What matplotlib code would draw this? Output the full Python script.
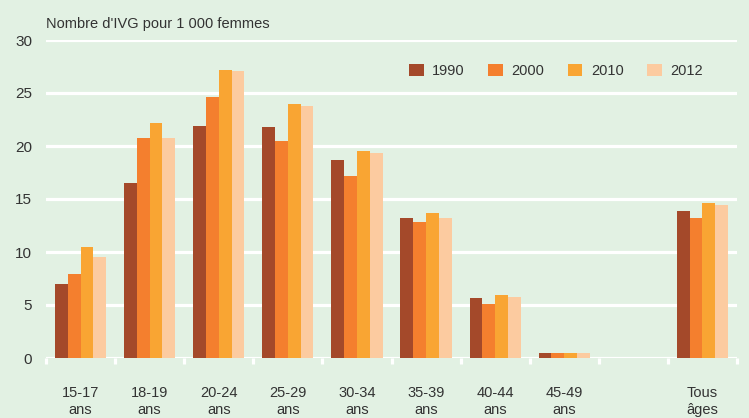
import numpy as np
import matplotlib
matplotlib.use("Agg")
import matplotlib.pyplot as plt
from matplotlib.patches import Patch

# Taux d'IVG pour 1 000 femmes, par groupe d'âge
age_groups = ["15-17\nans", "18-19\nans", "20-24\nans", "25-29\nans", "30-34\nans",
              "35-39\nans", "40-44\nans", "45-49\nans", "", "Tous\nâges"]
years = ["1990", "2000", "2010", "2012"]
rate_1990 = [7.0, 16.5, 21.9, 21.8, 18.7, 13.2, 5.7, 0.5, np.nan, 13.9]
rate_2000 = [7.9, 20.8, 24.6, 20.5, 17.2, 12.8, 5.1, 0.5, np.nan, 13.2]
rate_2010 = [10.5, 22.2, 27.2, 24.0, 19.5, 13.7, 5.9, 0.5, np.nan, 14.6]
rate_2012 = [9.5, 20.8, 27.1, 23.8, 19.3, 13.2, 5.8, 0.5, np.nan, 14.4]
colors = ["#a4492a", "#f47f2e", "#f9a533", "#fccba0"]

bg = "#e2f1e3"
txt = "#333333"
plt.rcParams["font.family"] = ["Liberation Sans", "DejaVu Sans"]

fig = plt.figure(figsize=(7.49, 4.18), dpi=100, facecolor=bg)
ax = fig.add_axes([46 / 749, 1 - 358 / 418, (737 - 46) / 749, (358 - 40) / 418])
ax.set_facecolor(bg)

x = np.arange(len(age_groups))
w = 0.185
series = [rate_1990, rate_2000, rate_2010, rate_2012]
for i, (vals, c) in enumerate(zip(series, colors)):
    ax.bar(x + (i - 1.5) * w, vals, width=w, color=c, zorder=3, linewidth=0)

ax.set_xlim(-0.5, len(age_groups) - 0.5)
ax.set_ylim(0, 30)
ax.set_yticks([0, 5, 10, 15, 20, 25, 30])
ax.yaxis.grid(True, color="white", linewidth=2.3, zorder=1)
ax.set_axisbelow(True)
for s in ax.spines.values():
    s.set_visible(False)

# group labels, with white separators between the groups
ax.set_xticks(x)
ax.set_xticklabels(age_groups, fontsize=10.5, color=txt, linespacing=1.3, va="top")
ax.set_xticks(np.arange(-0.5, len(age_groups)), minor=True)
ax.tick_params(axis="x", which="major", length=0, pad=20)
ax.tick_params(axis="x", which="minor", length=4, width=2.3, color="white", direction="out")
ax.tick_params(axis="y", length=0, pad=10, labelsize=11, labelcolor=txt)

ax.text(0, 1.05, "Nombre d'IVG pour 1 000 femmes", transform=ax.transAxes,
        fontsize=10.5, color=txt, va="center", ha="left")

handles = [Patch(facecolor=c, edgecolor="none", label=y) for y, c in zip(years, colors)]
fig.legend(handles=handles, ncol=4, loc="center left", bbox_to_anchor=(409 / 749, 1 - 71 / 418),
           frameon=False, fontsize=10.5, handlelength=1.0, handleheight=0.85,
           handletextpad=0.6, columnspacing=1.6, borderpad=0, borderaxespad=0,
           labelcolor=txt)

fig.savefig("out.png", dpi=100, facecolor=bg)
